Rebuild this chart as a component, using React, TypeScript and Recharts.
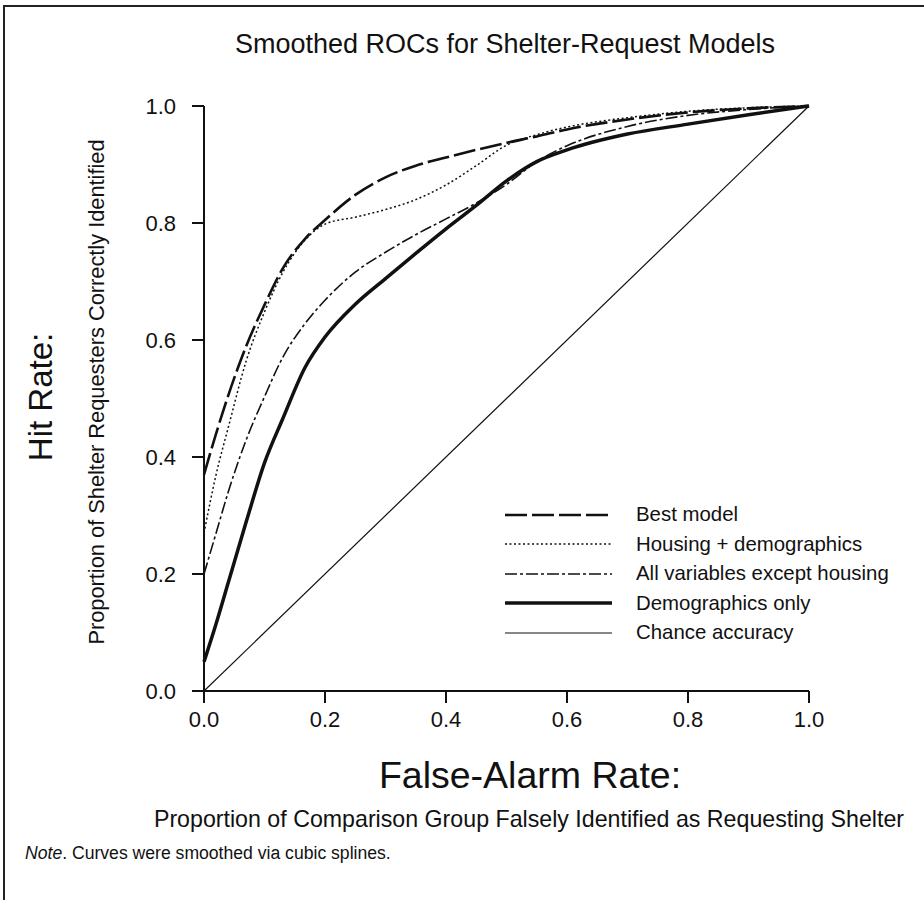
import { LineChart, Line, XAxis, YAxis } from 'recharts'

// false-alarm rate grid shared by the four model curves
const falseAlarm = [0, 0.02, 0.04, 0.07, 0.1, 0.13, 0.167, 0.2, 0.25, 0.3, 0.35, 0.4, 0.45, 0.5, 0.55, 0.6, 0.7, 0.8, 0.9, 1.0]

// hit rates
const bestModel = [0.37, 0.44, 0.505, 0.59, 0.66, 0.722, 0.773, 0.805, 0.848, 0.878, 0.898, 0.912, 0.925, 0.937, 0.948, 0.96, 0.977, 0.989, 0.996, 1.0]
const housingDemo = [0.27, 0.37, 0.45, 0.565, 0.648, 0.715, 0.771, 0.798, 0.81, 0.823, 0.84, 0.865, 0.898, 0.933, 0.951, 0.964, 0.98, 0.991, 0.997, 1.0]
const allExceptHousing = [0.2, 0.27, 0.34, 0.43, 0.503, 0.57, 0.628, 0.668, 0.716, 0.75, 0.78, 0.807, 0.834, 0.866, 0.905, 0.932, 0.965, 0.984, 0.994, 1.0]
const demographicsOnly = [0.05, 0.115, 0.185, 0.29, 0.39, 0.465, 0.553, 0.605, 0.661, 0.705, 0.748, 0.79, 0.83, 0.872, 0.905, 0.925, 0.952, 0.969, 0.985, 1.0]

const chanceX = [0, 1]
const chanceAccuracy = [0, 1]

const axisTicks = [0, 0.2, 0.4, 0.6, 0.8, 1.0]

const rows = falseAlarm.map((x, i) => ({
  x,
  best: bestModel[i],
  housing: housingDemo[i],
  allVars: allExceptHousing[i],
  demo: demographicsOnly[i],
}))
const chanceRows = chanceX.map((x, i) => ({ x, chance: chanceAccuracy[i] }))

const INK = '#111'
const FONT = '"Liberation Sans", Arial, Helvetica, sans-serif'

const series = [
  { key: 'best', name: 'Best model', width: 2.6, dash: '22 5' },
  { key: 'housing', name: 'Housing + demographics', width: 1.5, dash: '2 2.5' },
  { key: 'allVars', name: 'All variables except housing', width: 1.6, dash: '12 3 3 3' },
  { key: 'demo', name: 'Demographics only', width: 3.5, dash: undefined },
  { key: 'chance', name: 'Chance accuracy', width: 1.2, dash: undefined },
]

function LegendBox() {
  return (
    <div style={{ position: 'absolute', left: 505, top: 500, fontFamily: FONT, color: INK }}>
      {series.map((s) => (
        <div key={s.key} style={{ display: 'flex', alignItems: 'center', height: 29.5 }}>
          <svg width={107} height={10} style={{ marginRight: 24 }}>
            <line x1={0} y1={5} x2={107} y2={5} stroke={INK} strokeWidth={s.width} strokeDasharray={s.dash} />
          </svg>
          <span style={{ fontSize: 20.4, whiteSpace: 'nowrap' }}>{s.name}</span>
        </div>
      ))}
    </div>
  )
}

const centered = (x: number, y: number, size: number, rotate = 0) => ({
  position: 'absolute' as const,
  left: x,
  top: y,
  fontSize: size,
  lineHeight: 1,
  whiteSpace: 'nowrap' as const,
  transform: `translate(-50%, -50%) rotate(${rotate}deg)`,
})

export default function App() {
  return (
    <div style={{ position: 'absolute', left: 0, top: 0, width: 924, height: 900, background: '#fff', fontFamily: FONT, color: INK }}>
      <div style={{ position: 'absolute', left: 3, top: 5, right: 0, bottom: 0, borderTop: '2px solid #222', borderLeft: '2px solid #222' }} />
      <LineChart width={924} height={900} data={rows} margin={{ top: 106, right: 115, bottom: 0, left: 0 }}>
        <XAxis
          type='number'
          dataKey='x'
          domain={[0, 1]}
          ticks={axisTicks}
          tickFormatter={(v: number) => v.toFixed(1)}
          height={209}
          tickSize={12}
          tickMargin={8}
          axisLine={{ stroke: INK, strokeWidth: 2 }}
          tickLine={{ stroke: INK, strokeWidth: 2 }}
          tick={{ fill: INK, fontSize: 22, fontFamily: FONT }}
        />
        <YAxis
          type='number'
          domain={[0, 1]}
          ticks={axisTicks}
          tickFormatter={(v: number) => v.toFixed(1)}
          width={204}
          tickSize={12}
          tickMargin={16}
          axisLine={{ stroke: INK, strokeWidth: 2 }}
          tickLine={{ stroke: INK, strokeWidth: 2 }}
          tick={{ fill: INK, fontSize: 22, fontFamily: FONT }}
        />
        <Line data={chanceRows} dataKey='chance' type='linear' stroke={INK} strokeWidth={1.2} dot={false} isAnimationActive={false} />
        <Line dataKey='demo' type='monotone' stroke={INK} strokeWidth={3.5} dot={false} isAnimationActive={false} />
        <Line dataKey='allVars' type='monotone' stroke={INK} strokeWidth={1.6} strokeDasharray='12 3 3 3' dot={false} isAnimationActive={false} />
        <Line dataKey='housing' type='monotone' stroke={INK} strokeWidth={1.5} strokeDasharray='2 2.5' dot={false} isAnimationActive={false} />
        <Line dataKey='best' type='monotone' stroke={INK} strokeWidth={2.6} strokeDasharray='22 5' dot={false} isAnimationActive={false} />
      </LineChart>

      <LegendBox />
      <div style={centered(505, 44, 27)}>Smoothed ROCs for Shelter-Request Models</div>
      <div style={centered(40, 397, 33, -90)}>Hit Rate:</div>
      <div style={centered(97, 392, 21.8, -90)}>Proportion of Shelter Requesters Correctly Identified</div>
      <div style={centered(530, 776, 37.5)}>False-Alarm Rate:</div>
      <div style={centered(529, 820, 23.2)}>Proportion of Comparison Group Falsely Identified as Requesting Shelter</div>
      <div style={{ position: 'absolute', left: 25, top: 845, fontSize: 17.6, lineHeight: 1, whiteSpace: 'nowrap' }}>
        <i>Note</i>. Curves were smoothed via cubic splines.
      </div>
    </div>
  )
}
